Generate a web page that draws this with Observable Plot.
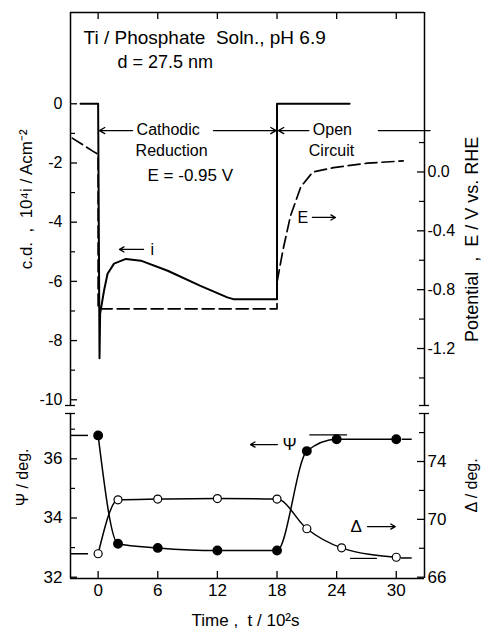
<!DOCTYPE html>
<html><head><meta charset="utf-8">
<script src="https://cdn.jsdelivr.net/npm/d3@7"></script>
<script src="https://cdn.jsdelivr.net/npm/@observablehq/plot@0.6"></script>
<style>
body{margin:0;background:#fff}
#chart{position:relative;width:484px;height:630px;overflow:hidden;background:#fff}
#chart svg{position:absolute;left:0}
</style>
</head><body><div id="chart"></div>
<script>
// ---------- data ----------
const tTicks = [0, 6, 12, 18, 24, 30];
const iTicks = [0, -2, -4, -6, -8, -10];
const iMinor = [-1, -3, -5, -7, -9];
const eTicks = [0.0, -0.4, -0.8, -1.2];
const eMinor = [0.2, -0.2, -0.6, -1.0, -1.4];
const psiTicks = [32, 34, 36];
const psiMinor = [33, 35, 37];
const deltaTicks = [66, 70, 74];
const deltaMinor = [68, 72, 76];

// current density i (10^4 A cm^-2) vs time (10^2 s)
const iTime  = [-1.77, 0, 0.14, 0.2, 0.6, 0.95, 1.6, 2.8, 4.3, 7.0, 10.3, 13.0, 13.6, 18, 18, 25.3];
const iValue = [0, 0, -8.6, -7.1, -6.3, -5.74, -5.4, -5.24, -5.3, -5.64, -6.15, -6.54, -6.6, -6.6, 0, 0];

// potential E (V vs RHE)
const eTime  = [-2.6, -0.5, 0, 0, 18, 18, 18.6, 19.35, 20.4, 21.6, 23.7, 27.1, 30.7];
const eValue = [0.23, 0.14, 0.12, -0.93, -0.93, -0.75, -0.53, -0.30, -0.10, 0.0, 0.03, 0.06, 0.075];

// ellipsometry
const psiTime  = [0, 2, 6, 12, 18, 21, 24, 30];
const psiValue = [36.79, 33.13, 32.99, 32.90, 32.90, 36.26, 36.66, 36.66];
const deltaTime  = [0, 2, 6, 12, 18, 21, 24.5, 30];
const deltaValue = [67.62, 71.35, 71.40, 71.44, 71.40, 69.35, 68.03, 67.38];

// ---------- helpers (secondary axes mapped onto primary scales) ----------
const eToI = e => -2.304 + 4.970 * e;
const iToE = v => (v + 2.304) / 4.970;
const dToP = d => 32 + 0.4885 * (d - 66);
const pToD = p => 66 + (p - 32) / 0.4885;
const fmtE = v => (Math.abs(v) < 1e-6 ? 0 : v).toFixed(1);
const fmtN = d => String(Math.round(d));

const W = 484, ML = 70, MR = 60, FW = W - ML - MR;
const xDomain = [-2.78, 32.84];
const font = "'Liberation Sans', Arial, sans-serif";

const iData = iTime.map((t, k) => ({t, v: iValue[k]}));
const eData = eTime.map((t, k) => ({t, v: eToI(eValue[k])}));
const psiData = psiTime.map((t, k) => ({t, v: psiValue[k]}));
const deltaData = deltaTime.map((t, k) => ({t, v: dToP(deltaValue[k])}));

// ---------- upper panel ----------
const H1 = 410, MT1 = 12, MB1 = 5, FH1 = H1 - MT1 - MB1;
const yDom1 = [-10.193, 3.084];
const upper = Plot.plot({
  width: W, height: H1, marginLeft: ML, marginRight: MR, marginTop: MT1, marginBottom: MB1,
  x: {domain: xDomain, axis: null},
  y: {domain: yDom1, axis: null},
  style: {fontFamily: font, fontSize: "16px", color: "black", background: "transparent", overflow: "visible"},
  marks: [
    Plot.ruleX(xDomain, {stroke: "black", strokeWidth: 1.5}),
    Plot.ruleY([yDom1[1]], {stroke: "black", strokeWidth: 1.5}),
    Plot.tickX(tTicks, {x: d => d, insetBottom: FH1 - 7, strokeWidth: 1.3}),
    Plot.tickY(iTicks, {y: d => d, insetRight: FW - 7, strokeWidth: 1.3}),
    Plot.tickY(iMinor, {y: d => d, insetRight: FW - 5, strokeWidth: 1.2}),
    Plot.tickY(eTicks, {y: d => eToI(d), insetLeft: FW - 7, strokeWidth: 1.3}),
    Plot.tickY(eMinor, {y: d => eToI(d), insetLeft: FW - 5, strokeWidth: 1.2}),
    Plot.tickY([yDom1[0]], {insetLeft: -5, insetRight: FW - 5, strokeWidth: 1.3}),
    Plot.tickY([yDom1[0]], {insetLeft: FW - 5, insetRight: -5, strokeWidth: 1.3}),
    Plot.axisY(iTicks, {anchor: "left", tickSize: 0, tickPadding: 8, tickFormat: fmtN, label: null, fontSize: 16}),
    Plot.axisY(eTicks.map(eToI), {anchor: "right", tickSize: 0, tickPadding: 3, tickFormat: d => fmtE(iToE(d)), label: null, fontSize: 16}),
    Plot.line(eData, {x: "t", y: "v", stroke: "black", strokeWidth: 1.7, strokeDasharray: "12,5"}),
    Plot.line(iData, {x: "t", y: "v", stroke: "black", strokeWidth: 2}),
    // annotations
    Plot.text(["Ti / Phosphate\u00a0 Soln., pH 6.9"], {x: -1.47, y: 2.21, textAnchor: "start", fontSize: 19}),
    Plot.text(["d = 27.5 nm"], {x: 1.95, y: 1.40, textAnchor: "start", fontSize: 18}),
    Plot.text(["Cathodic"], {x: 3.87, y: -0.87, textAnchor: "start", fontSize: 16}),
    Plot.text(["Reduction"], {x: 3.77, y: -1.58, textAnchor: "start", fontSize: 16}),
    Plot.text(["E = -0.95 V"], {x: 4.97, y: -2.42, textAnchor: "start", fontSize: 17}),
    Plot.text(["Open"], {x: 21.6, y: -0.87, textAnchor: "start", fontSize: 16}),
    Plot.text(["Circuit"], {x: 21.2, y: -1.58, textAnchor: "start", fontSize: 16}),
    Plot.text(["E"], {x: 20.07, y: -3.84, textAnchor: "start", fontSize: 16}),
    Plot.text(["i"], {x: 5.27, y: -4.92, textAnchor: "start", fontSize: 16}),
    Plot.arrow([0], {x1: 3.47, y1: -0.905, x2: 0.14, y2: -0.905, headLength: 7, strokeWidth: 1.3}),
    Plot.arrow([0], {x1: 11.6, y1: -0.905, x2: 17.9, y2: -0.905, headLength: 7, strokeWidth: 1.3}),
    Plot.arrow([0], {x1: 21.2, y1: -0.905, x2: 18.15, y2: -0.905, headLength: 7, strokeWidth: 1.3}),
    Plot.ruleY([-0.905], {x1: 28.2, x2: 33.5, strokeWidth: 1.3}),
    Plot.arrow([0], {x1: 21.56, y1: -3.84, x2: 23.88, y2: -3.84, headLength: 6, strokeWidth: 1.3}),
    Plot.arrow([0], {x1: 4.57, y1: -4.92, x2: 2.15, y2: -4.92, headLength: 6, strokeWidth: 1.3}),
    // axis titles
    Plot.text(["c.d.  ,  10\u2074i / Acm\u207b\u00b2"], {x: -7.21, y: -3.23, rotate: -90, fontSize: 17}),
    Plot.text(["Potential  ,  E / V vs. RHE"], {x: 37.66, y: -4.58, rotate: -90, fontSize: 18})
  ]
});

// ---------- lower panel ----------
const H2 = 220, MT2 = 3, MB2 = 52, FH2 = H2 - MT2 - MB2;
const yDom2 = [31.956, 37.53];
const lower = Plot.plot({
  width: W, height: H2, marginLeft: ML, marginRight: MR, marginTop: MT2, marginBottom: MB2,
  x: {domain: xDomain, axis: null},
  y: {domain: yDom2, axis: null},
  style: {fontFamily: font, fontSize: "16px", color: "black", background: "transparent", overflow: "visible"},
  marks: [
    Plot.ruleX(xDomain, {stroke: "black", strokeWidth: 1.5}),
    Plot.ruleY([yDom2[0]], {stroke: "black", strokeWidth: 1.5}),
    Plot.tickX(tTicks, {x: d => d, insetTop: FH2 - 7, strokeWidth: 1.3}),
    Plot.tickY(psiTicks, {y: d => d, insetRight: FW - 7, strokeWidth: 1.3}),
    Plot.tickY(psiMinor, {y: d => d, insetRight: FW - 5, strokeWidth: 1.2}),
    Plot.tickY(deltaTicks, {y: d => dToP(d), insetLeft: FW - 7, strokeWidth: 1.3}),
    Plot.tickY(deltaMinor, {y: d => dToP(d), insetLeft: FW - 5, strokeWidth: 1.2}),
    Plot.tickY([yDom2[1]], {insetLeft: -5, insetRight: FW - 5, strokeWidth: 1.3}),
    Plot.tickY([yDom2[1]], {insetLeft: FW - 5, insetRight: -5, strokeWidth: 1.3}),
    Plot.axisX(tTicks, {anchor: "bottom", tickSize: 0, tickPadding: 5, label: null, fontSize: 17}),
    Plot.axisY(psiTicks, {anchor: "left", tickSize: 0, tickPadding: 8, tickFormat: fmtN, label: null, fontSize: 17}),
    Plot.axisY(deltaTicks.map(dToP), {anchor: "right", tickSize: 0, tickPadding: 3, tickFormat: d => fmtN(pToD(d)), label: null, fontSize: 17}),
    // lead-in / lead-out / reference levels
    Plot.ruleY([psiValue[0]], {x1: -2.75, x2: -0.97, strokeWidth: 1.5}),
    Plot.ruleY([dToP(deltaValue[0])], {x1: -2.75, x2: -0.97, strokeWidth: 1.5}),
    Plot.ruleY([psiValue[7]], {x1: 30.6, x2: 31.6, strokeWidth: 1.5}),
    Plot.ruleY([dToP(67.33)], {x1: 30.5, x2: 31.6, strokeWidth: 1.5}),
    Plot.ruleY([36.81], {x1: 21.3, x2: 25.1, strokeWidth: 1.2}),
    Plot.ruleY([dToP(67.3)], {x1: 25.4, x2: 28.1, strokeWidth: 1.2}),
    Plot.line(psiData, {x: "t", y: "v", curve: "monotone-x", stroke: "black", strokeWidth: 1.5}),
    Plot.line(deltaData, {x: "t", y: "v", curve: "monotone-x", stroke: "black", strokeWidth: 1.5}),
    Plot.dot(deltaData, {x: "t", y: "v", r: 4, fill: "white", stroke: "black", strokeWidth: 1.2}),
    Plot.dot(psiData, {x: "t", y: "v", r: 4.2, fill: "black", stroke: "black"}),
    Plot.text(["\u03a8"], {x: 18.55, y: 36.48, textAnchor: "start", fontSize: 17}),
    Plot.arrow([0], {x1: 18.04, y1: 36.48, x2: 15.33, y2: 36.48, headLength: 6, strokeWidth: 1.3}),
    Plot.text(["\u0394"], {x: 25.39, y: 33.71, textAnchor: "start", fontSize: 17}),
    Plot.arrow([0], {x1: 27.1, y1: 33.71, x2: 29.9, y2: 33.71, headLength: 6, strokeWidth: 1.3}),
    Plot.text(["\u03a8 / deg."], {x: -7.61, y: 35.37, rotate: -90, fontSize: 16}),
    Plot.text(["\u0394 / deg."], {x: 37.6, y: 35.10, rotate: -90, fontSize: 16}),
    Plot.text(["Time ,  t / 10\u00b2s"], {x: 14.83, y: 30.54, fontSize: 17})
  ]
});

const chart = document.getElementById("chart");
upper.style.top = "0px";
lower.style.top = H1 + "px";
chart.appendChild(upper);
chart.appendChild(lower);
</script></body></html>
